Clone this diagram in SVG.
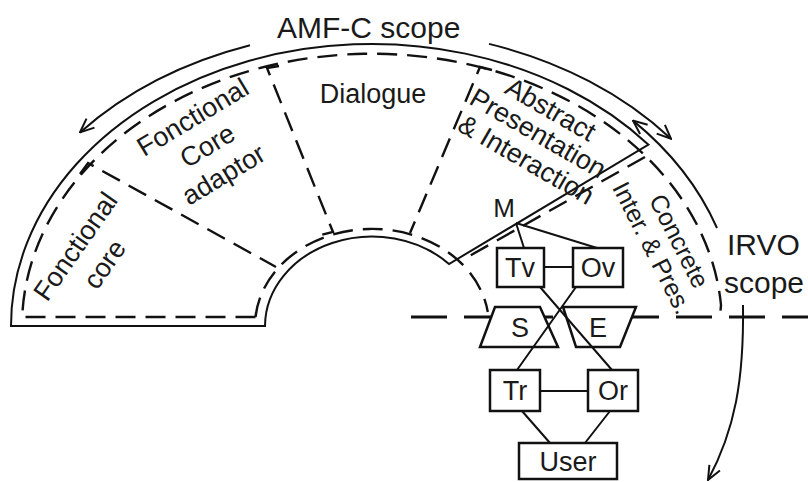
<svg xmlns="http://www.w3.org/2000/svg" width="808" height="482" viewBox="0 0 808 482">
<style>
.t{font-family:"Liberation Sans",Arial,sans-serif;font-size:27px;fill:#1a1a1a}
.big{font-size:30px}
.ln{fill:none;stroke:#111;stroke-width:2}
.ds{fill:none;stroke:#111;stroke-width:2.4;stroke-dasharray:20 10}
.hd{fill:none;stroke:#111;stroke-width:3;stroke-dasharray:36 17}
.box{fill:#fff;stroke:#111;stroke-width:2.5}
.arr{fill:none;stroke:#111;stroke-width:2;marker-end:url(#ah)}
</style>
<defs>
<marker id="ah" markerUnits="userSpaceOnUse" markerWidth="16" markerHeight="14" refX="15" refY="7" orient="auto-start-reverse" viewBox="0 0 16 14"><path d="M1,1 L15,7 L1,13" fill="none" stroke="#111" stroke-width="2"/></marker>
</defs>
<rect width="808" height="482" fill="#fff"/>

<g id="amfc-scope">
<path class="ln" d="M11,326 A361,282 0 0 1 648.5,144.7 L449,264 A107,90 0 0 0 265,326 Z"/>
</g>

<g id="layers">
<path class="ds" d="M255.5,317 L22.2,317 A350,272 0 0 1 721,305 L720,317"/>
<path class="ds" d="M255.5,317 A117,97 0 0 1 487.8,312"/>
<path class="ds" d="M80,174 L88,163 L276,267"/>
<path class="ds" d="M279,66 L267,68 L333,232 L321,235"/>
<path class="ds" d="M492,70 L480,67 L410,233"/>
<path class="ds" d="M645,157 L464,259"/>
<path class="hd" d="M411,317 L808,317"/>
</g>

<g id="labels">
<text class="t big" x="277" y="38">AMF-C scope</text>
<g transform="translate(91,256) rotate(-55)">
<text class="t" text-anchor="middle" x="-1" y="-9">Fonctional</text>
<text class="t" text-anchor="middle" x="1" y="25">core</text>
</g>
<g transform="translate(207,145) rotate(-31)">
<text class="t" text-anchor="middle" x="2" y="-22">Fonctional</text>
<text class="t" text-anchor="middle" x="0" y="10">Core</text>
<text class="t" text-anchor="middle" x="-1" y="43">adaptor</text>
</g>
<text class="t" text-anchor="middle" x="373" y="103">Dialogue</text>
<g transform="translate(537,135) rotate(30)">
<text class="t" text-anchor="middle" x="-1" y="-20">Abstract</text>
<text class="t" text-anchor="middle" x="0" y="7">Presentation</text>
<text class="t" text-anchor="middle" x="3" y="36">&amp; Interaction</text>
</g>
<g transform="translate(666.5,244) rotate(63)">
<text class="t" style="font-size:25px" text-anchor="middle" x="3" y="-4">Concrete</text>
<text class="t" style="font-size:25px" text-anchor="middle" x="-3" y="23">Inter. &amp; Pres.</text>
</g>
<text class="t big" x="727" y="255">IRVO</text>
<text class="t big" x="724" y="293">scope</text>
</g>

<g id="connectors">
<path class="arr" d="M250,45.2 A386,296 0 0 0 80,132.4"/>
<path class="arr" d="M489,43.9 A386,296 0 0 1 671,138.8"/>
<path class="ln" style="marker-start:url(#ah)" d="M633,120.6 A366,293 0 0 1 717,228"/>
<path class="arr" d="M743,305 C744,380 735,430 708,480"/>
<path class="ln" d="M516,223 L524,248 M516,223 L597,248"/>
<path class="ln" d="M544,267 L573,267 M540,391 L588,391 M522,411 L550,443 M610,411 L585,443"/>
</g>

<g id="node-S"><polygon class="box" stroke-width="2" points="495,307 540,307 558,347 480,347"/><text class="t" text-anchor="middle" x="520" y="337">S</text></g>
<g id="node-E"><polygon class="box" stroke-width="2" points="563,307 636,307 620,347 576,347"/><text class="t" text-anchor="middle" x="598" y="337">E</text></g>
<g id="cross"><path class="ln" d="M540,287 L612,370 M576,287 L517,370"/></g>

<g id="node-M"><text class="t" style="font-size:26px" text-anchor="middle" x="504" y="217">M</text></g>
<g id="node-Tv"><rect class="box" x="497" y="248" width="47" height="39"/><text class="t" text-anchor="middle" x="520" y="277">Tv</text></g>
<g id="node-Ov"><rect class="box" x="573" y="248" width="50" height="39"/><text class="t" text-anchor="middle" x="598" y="277">Ov</text></g>
<g id="node-Tr"><rect class="box" x="490" y="370" width="50" height="41"/><text class="t" text-anchor="middle" x="515" y="400">Tr</text></g>
<g id="node-Or"><rect class="box" x="588" y="370" width="50" height="41"/><text class="t" text-anchor="middle" x="613" y="400">Or</text></g>
<g id="node-User"><rect class="box" x="519" y="443" width="98" height="36"/><text class="t" text-anchor="middle" x="568" y="471">User</text></g>
</svg>
